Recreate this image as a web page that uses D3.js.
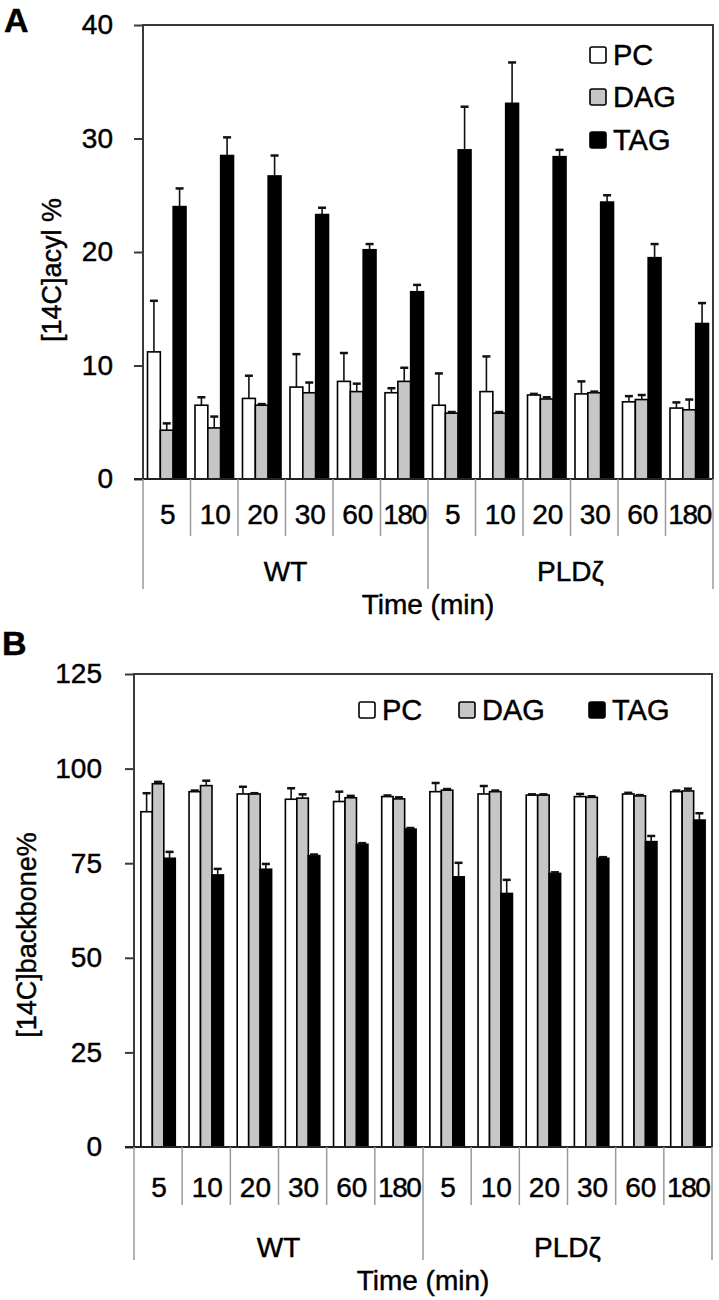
<!DOCTYPE html>
<html>
<head>
<meta charset="utf-8">
<script src="https://cdn.jsdelivr.net/npm/d3@7"></script>
<style>
  body { margin: 0; background: #fff; }
  svg { display: block; font-family: "Liberation Sans", Arial, sans-serif; }
  text { stroke: #000; stroke-width: 0.45px; }
</style>
</head>
<body>
<div id="chart"></div>
<script>
// categories
var times = ["5", "10", "20", "30", "60", "180"];
var groups = ["WT", "PLDζ"];
var series = ["PC", "DAG", "TAG"];

// panel A : [14C]acyl %  (WT 5..180, then PLDζ 5..180)
var acylPC     = [11.2, 6.5, 7.1, 8.1, 8.6, 7.6, 6.5, 7.7, 7.4, 7.5, 6.8, 6.25];
var acylPCErr  = [4.5, 0.7, 2.0, 2.9, 2.5, 0.4, 2.8, 3.1, 0.1, 1.1, 0.5, 0.5];
var acylDAG    = [4.3, 4.5, 6.5, 7.6, 7.7, 8.6, 5.8, 5.8, 7.05, 7.6, 7.0, 6.1];
var acylDAGErr = [0.6, 1.0, 0.1, 0.9, 0.7, 1.2, 0.1, 0.1, 0.15, 0.1, 0.4, 0.9];
var acylTAG    = [24.0, 28.5, 26.7, 23.3, 20.2, 16.5, 29.0, 33.1, 28.4, 24.4, 19.5, 13.7];
var acylTAGErr = [1.6, 1.6, 1.8, 0.6, 0.5, 0.6, 3.8, 3.6, 0.6, 0.6, 1.2, 1.8];
var acylTicks  = [0, 10, 20, 30, 40];

// panel B : [14C]backbone%
var bbPC     = [88.6, 93.9, 93.3, 91.9, 91.3, 92.6, 93.9, 93.3, 93.0, 92.6, 93.3, 93.9];
var bbPCErr  = [4.9, 0.3, 1.9, 2.9, 2.6, 0.3, 2.3, 2.1, 0.2, 0.7, 0.3, 0.3];
var bbDAG    = [96.0, 95.5, 93.3, 92.2, 92.3, 92.0, 94.3, 93.9, 93.0, 92.4, 92.8, 94.1];
var bbDAGErr = [0.5, 1.3, 0.2, 1.0, 0.5, 0.4, 0.3, 0.3, 0.2, 0.3, 0.2, 0.6];
var bbTAG    = [76.3, 71.9, 73.4, 77.0, 80.0, 84.0, 71.4, 67.0, 72.3, 76.3, 80.7, 86.4];
var bbTAGErr = [1.7, 1.6, 1.4, 0.3, 0.3, 0.3, 3.7, 3.6, 0.3, 0.3, 1.5, 1.8];
var bbTicks  = [0, 25, 50, 75, 100, 125];

var fills = { PC: "#ffffff", DAG: "#c6c6c6", TAG: "#000000" };

var svg = d3.select("#chart").append("svg")
  .attr("width", 719)
  .attr("height", 1300);

function drawPanel(cfg) {
  var g = svg.append("g");
  var cats = d3.range(12);

  var x = d3.scaleBand().domain(cats).range([cfg.left, cfg.right]);
  var xi = d3.scaleBand().domain(series).range([0, x.bandwidth()]).paddingOuter(cfg.pad);
  var y = d3.scaleLinear().domain([0, cfg.max]).range([cfg.bottom, cfg.top]);

  // frame
  g.append("path")
    .attr("d", "M" + cfg.left + "," + cfg.bottom + "V" + cfg.top + "H" + cfg.right + "V" + cfg.bottom)
    .attr("fill", "none").attr("stroke", "#3a3a3a").attr("stroke-width", 2);

  // y axis
  var ax = g.append("g")
    .attr("transform", "translate(" + cfg.left + ",0)")
    .call(d3.axisLeft(y).tickValues(cfg.ticks).tickSize(9).tickPadding(cfg.tickPad));
  ax.select(".domain").remove();
  ax.selectAll("line").attr("stroke", "#3a3a3a").attr("stroke-width", 2);
  ax.selectAll("text").attr("font-size", 28).attr("fill", "#000");

  // y title
  g.append("text")
    .attr("transform", "translate(" + cfg.titleX + "," + cfg.titleY + ") rotate(-90)")
    .attr("text-anchor", "middle")
    .attr("dominant-baseline", "central")
    .attr("font-size", 27)
    .text(cfg.title);

  // bars
  series.forEach(function(s) {
    var vals = cfg.values[s], errs = cfg.errors[s];
    g.append("g").selectAll("rect").data(cats).join("rect")
      .attr("x", function(i) { return x(i) + xi(s); })
      .attr("y", function(i) { return y(vals[i]); })
      .attr("width", xi.bandwidth())
      .attr("height", function(i) { return y(0) - y(vals[i]); })
      .attr("fill", fills[s])
      .attr("stroke", "#000")
      .attr("stroke-width", 1.6);

    // error bars (upper only)
    var eb = g.append("g").attr("stroke", "#111").attr("stroke-width", 1.6);
    eb.selectAll("line.v").data(cats).join("line").attr("class", "v")
      .attr("x1", function(i) { return x(i) + xi(s) + xi.bandwidth() / 2; })
      .attr("x2", function(i) { return x(i) + xi(s) + xi.bandwidth() / 2; })
      .attr("y1", function(i) { return y(vals[i]); })
      .attr("y2", function(i) { return y(vals[i] + errs[i]); });
    eb.selectAll("line.c").data(cats).join("line").attr("class", "c")
      .attr("x1", function(i) { return x(i) + xi(s) + xi.bandwidth() / 2 - 4; })
      .attr("x2", function(i) { return x(i) + xi(s) + xi.bandwidth() / 2 + 4; })
      .attr("y1", function(i) { return y(vals[i] + errs[i]); })
      .attr("y2", function(i) { return y(vals[i] + errs[i]); })
      .attr("stroke-width", 2.5);
  });

  // zero line
  g.append("line")
    .attr("x1", cfg.left - 9).attr("x2", cfg.right)
    .attr("y1", y(0)).attr("y2", y(0))
    .attr("stroke", "#222").attr("stroke-width", 2);

  // category dividers below the axis
  d3.range(13).forEach(function(k) {
    var xx = k < 12 ? x(k) : cfg.right;
    var isGroup = k % 6 === 0;
    g.append("line")
      .attr("x1", xx).attr("x2", xx)
      .attr("y1", y(0)).attr("y2", isGroup ? cfg.groupLineY : cfg.catLineY)
      .attr("stroke", "#9a9a9a").attr("stroke-width", 1.5);
  });

  // time labels
  g.append("g").selectAll("text").data(cats).join("text")
    .attr("x", function(i) { return x(i) + x.bandwidth() / 2 + 1; })
    .attr("y", cfg.catLabelY)
    .attr("text-anchor", "middle")
    .attr("dominant-baseline", "central")
    .attr("font-size", 28)
    .attr("textLength", function(i) { return times[i % 6].length === 3 ? 44 : null; })
    .text(function(i) { return times[i % 6]; });

  // group labels
  groups.forEach(function(gr, j) {
    g.append("text")
      .attr("x", (x(j * 6) + (j === 0 ? x(6) : cfg.right)) / 2)
      .attr("y", cfg.groupLabelY)
      .attr("text-anchor", "middle")
      .attr("dominant-baseline", "central")
      .attr("font-size", 28)
      .text(gr);
  });

  g.append("text")
    .attr("x", (cfg.left + cfg.right) / 2)
    .attr("y", cfg.xTitleY)
    .attr("text-anchor", "middle")
    .attr("dominant-baseline", "central")
    .attr("font-size", 28)
    .text("Time (min)");

  // panel letter
  g.append("text")
    .attr("x", cfg.letterX).attr("y", cfg.letterY)
    .attr("dominant-baseline", "central")
    .attr("font-size", 34).attr("font-weight", "bold")
    .text(cfg.letter);

  // legend
  series.forEach(function(s, k) {
    var lx = cfg.legend[k][0], ly = cfg.legend[k][1];
    g.append("rect")
      .attr("x", lx).attr("y", ly - 8)
      .attr("width", 16).attr("height", 16)
      .attr("rx", 2)
      .attr("fill", fills[s]).attr("stroke", "#000").attr("stroke-width", 1.6);
    g.append("text")
      .attr("x", lx + 23).attr("y", ly)
      .attr("dominant-baseline", "central")
      .attr("font-size", 29)
      .text(s);
  });
}

drawPanel({
  letter: "A", letterX: 4, letterY: 20,
  left: 143, right: 713, top: 25, bottom: 479, max: 40,
  ticks: acylTicks, pad: 0.35, tickPad: 21,
  title: "[14C]acyl %", titleX: 52, titleY: 270,
  values: { PC: acylPC, DAG: acylDAG, TAG: acylTAG },
  errors: { PC: acylPCErr, DAG: acylDAGErr, TAG: acylTAGErr },
  catLineY: 536, groupLineY: 589,
  catLabelY: 514, groupLabelY: 571, xTitleY: 604,
  legend: [[590, 55], [590, 97], [590, 140]]
});

drawPanel({
  letter: "B", letterX: 2, letterY: 643,
  left: 134, right: 712, top: 674, bottom: 1147, max: 125,
  ticks: bbTicks, pad: 0.6, tickPad: 23,
  title: "[14C]backbone%", titleX: 27, titleY: 935,
  values: { PC: bbPC, DAG: bbDAG, TAG: bbTAG },
  errors: { PC: bbPCErr, DAG: bbDAGErr, TAG: bbTAGErr },
  catLineY: 1205, groupLineY: 1260,
  catLabelY: 1187, groupLabelY: 1247, xTitleY: 1280,
  legend: [[359, 710], [459, 710], [589, 710]]
});
</script>
</body>
</html>
